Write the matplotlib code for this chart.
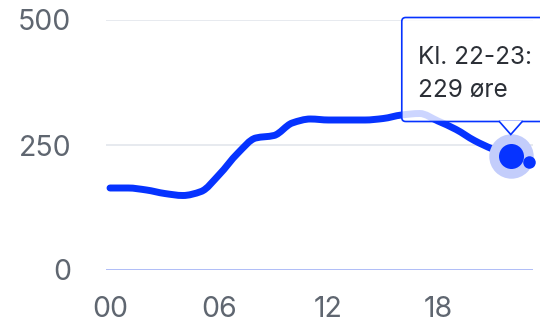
import numpy as np
import matplotlib
matplotlib.use('Agg')
import matplotlib.pyplot as plt
from matplotlib.path import Path
from matplotlib.patches import PathPatch, FancyBboxPatch, Polygon

plt.rcParams['font.family'] = ['Inter', 'DejaVu Sans']

# hourly price (øre/kWh)
hours = list(range(24))
prices = [164, 164, 160, 153, 149, 157, 191, 233, 264, 269, 294, 302,
          300, 300, 300, 303, 310, 313, 298, 281, 259, 242, 229, 216]
yticks = [0, 250, 500]
xticks = [0, 6, 12, 18]
xticklabels = ['00', '06', '12', '18']
hi_hour = 22
tip_lines = ['Kl. 22-23:', '229 øre']

BLUE = '#0633ff'
GRAY = '#5f6670'


def monotone_path(x, y):
    # Fritsch-Carlson monotone cubic, as bezier segments
    x = np.asarray(x, float)
    y = np.asarray(y, float)
    h = np.diff(x)
    d = np.diff(y) / h
    m = np.zeros_like(y)
    m[0], m[-1] = d[0], d[-1]
    for i in range(1, len(x) - 1):
        if d[i - 1] * d[i] <= 0:
            m[i] = 0
        else:
            m[i] = 2 / (1 / d[i - 1] + 1 / d[i])
    verts = [(x[0], y[0])]
    codes = [Path.MOVETO]
    for i in range(len(x) - 1):
        verts += [(x[i] + h[i] / 3, y[i] + m[i] * h[i] / 3),
                  (x[i + 1] - h[i] / 3, y[i + 1] - m[i + 1] * h[i] / 3),
                  (x[i + 1], y[i + 1])]
        codes += [Path.CURVE4] * 3
    return Path(verts, codes)


fig = plt.figure(figsize=(5.4, 3.25), dpi=100)
ax = fig.add_axes([106 / 540, 55 / 325, 427 / 540, 250 / 325])
ax.set_xlim(-0.22, 23.22)
ax.set_ylim(0, 500)

for v in yticks:
    ax.axhline(v, color='#a9b8f7' if v == 0 else '#e5e8ee', lw=1.3, zorder=1)

for s in ax.spines.values():
    s.set_visible(False)
ax.set_yticks(yticks)
ax.set_xticks(xticks)
ax.set_xticklabels(xticklabels)
ax.tick_params(length=0, labelsize=20.5, colors=GRAY)
ax.tick_params(axis='y', pad=25)
ax.tick_params(axis='x', pad=19)

line = PathPatch(monotone_path(hours, prices), fill=False, edgecolor=BLUE,
                 lw=5, capstyle='round', joinstyle='round', zorder=3)
ax.add_patch(line)

# tooltip, placed in pixels relative to the highlighted point
fig.canvas.draw()
px, py = ax.transData.transform((hi_hour, prices[hi_hour]))
box = FancyBboxPatch((px - 109, py + 34), 160, 104,
                     boxstyle='round,pad=0,rounding_size=4',
                     transform=None, facecolor='white', alpha=0.8,
                     edgecolor='none', zorder=4)
border = FancyBboxPatch((px - 109, py + 34), 160, 104,
                        boxstyle='round,pad=0,rounding_size=4',
                        transform=None, facecolor='none',
                        edgecolor=BLUE, lw=1.2, zorder=5)
pointer = Polygon([(px - 12, py + 34.6), (px, py + 21), (px + 12, py + 34.6)],
                  closed=False, transform=None, facecolor='white',
                  edgecolor=BLUE, lw=1.2, zorder=5)
fig.add_artist(box)
fig.add_artist(border)
fig.add_artist(pointer)
fig.text((px - 93) / 540, (py + 92) / 325, tip_lines[0], fontsize=17.5,
         color='#2b2f36', va='baseline', zorder=6)
fig.text((px - 93) / 540, (py + 59) / 325, tip_lines[1], fontsize=17.5,
         color='#2b2f36', va='baseline', zorder=6)

ax.plot([hi_hour], [prices[hi_hour]], 'o', ms=32, color='#c3cdfb',
        mec='none', zorder=7, clip_on=False)
ax.plot([hi_hour], [prices[hi_hour]], 'o', ms=18, color=BLUE,
        mec='none', zorder=8, clip_on=False)
ax.plot([hours[-1]], [prices[-1]], 'o', ms=9, color=BLUE,
        mec='none', zorder=8, clip_on=False)

fig.savefig('out.png', dpi=100)
